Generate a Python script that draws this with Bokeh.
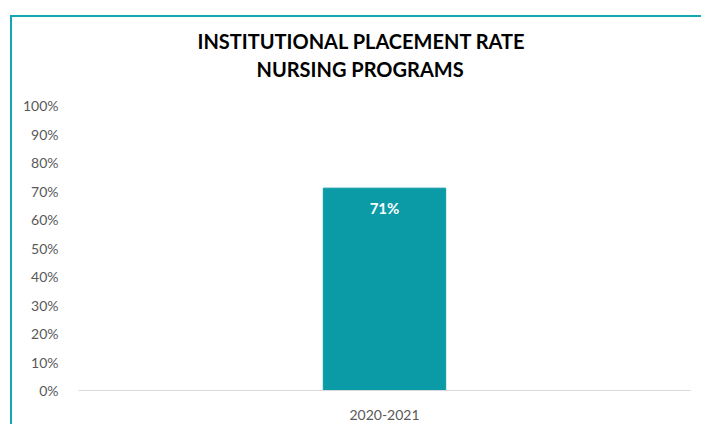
from bokeh.plotting import figure
from bokeh.models import FixedTicker, NumeralTickFormatter, Title, ColumnDataSource, LabelSet
from bokeh.core.properties import value
from bokeh.embed import file_html
from bokeh.resources import INLINE

categories = ["2020-2021"]
rates = [0.71]
rate_labels = ["71%"]
title_lines = ["INSTITUTIONAL PLACEMENT RATE", "NURSING PROGRAMS"]
y_ticks = [0.0, 0.1, 0.2, 0.3, 0.4, 0.5, 0.6, 0.7, 0.8, 0.9, 1.0]

BAR = "#0a9ba6"
BORDER = "#14a6b2"

src = ColumnDataSource(dict(cat=categories, rate=rates, lab=rate_labels))

p = figure(x_range=categories, y_range=(0, 1), width=691, height=409,
           output_backend="svg", toolbar_location=None,
           min_border_left=66, min_border_right=13, min_border_bottom=36, min_border_top=88,
           margin=(15, 0, 0, 10),
           styles={"border-top": f"2px solid {BORDER}", "border-left": f"2px solid {BORDER}"})
p.outline_line_color = None
p.xgrid.grid_line_color = None
p.ygrid.grid_line_color = None

p.vbar(x="cat", top="rate", width=0.2, color=BAR, source=src)
p.add_layout(LabelSet(x="cat", y="rate", text="lab", source=src, text_color="white",
                      text_font=value("Lato"), text_font_style="bold", text_font_size="15px",
                      text_align="center", text_baseline="middle", y_offset=-20))

# blank spacer title right above the frame, pushing the real title lines up
p.add_layout(Title(text=" ", align="left", standoff=3, text_font="Lato",
                   text_font_size="16px"), "above")

# first added title sits closest to the plot frame
title_offsets = [119, 178]
for line, off in reversed(list(zip(title_lines, title_offsets))):
    p.add_layout(Title(text=line, align="left", offset=off, standoff=2,
                       text_font="Lato", text_font_style="bold", text_font_size="20px",
                       text_color="black"), "above")

p.yaxis.ticker = FixedTicker(ticks=y_ticks)
p.yaxis.formatter = NumeralTickFormatter(format="0%")
p.yaxis.axis_line_color = None
p.yaxis.major_tick_line_color = None
p.yaxis.minor_tick_line_color = None
p.yaxis.major_label_text_color = "#595959"
p.yaxis.major_label_text_font = "Lato"
p.yaxis.major_label_text_font_size = "14px"
p.yaxis.major_label_standoff = 14

p.xaxis.axis_line_color = "#d9d9d9"
p.xaxis.axis_line_width = 1
p.xaxis.major_tick_line_color = None
p.xaxis.minor_tick_line_color = None
p.xaxis.major_label_text_color = "#595959"
p.xaxis.major_label_text_font = "Lato"
p.xaxis.major_label_text_font_size = "14px"
p.xaxis.major_label_standoff = 13

open("out.html", "w").write(file_html(p, INLINE))
